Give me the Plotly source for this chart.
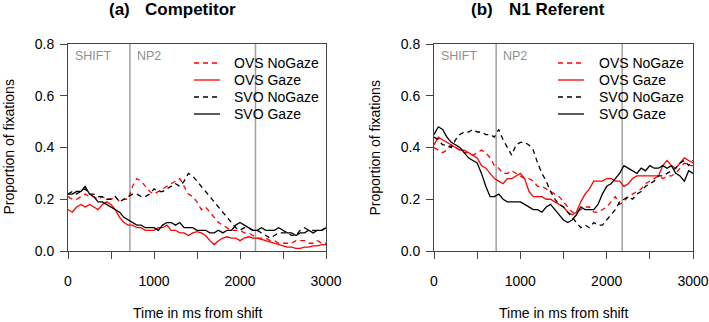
import plotly.graph_objects as go

# ---------------- data ----------------
TIME_MS = list(range(0, 3001, 50))

SERIES_NAMES = ["OVS NoGaze", "OVS Gaze", "SVO NoGaze", "SVO Gaze"]
SERIES_COLORS = ["#FF0000", "#FF0000", "#000000", "#000000"]
SERIES_DASH = ["5px,4px", "solid", "5px,4px", "solid"]

# Panel (a) Competitor
comp_ovs_nogaze = [0.21, 0.20, 0.20, 0.21, 0.22, 0.21, 0.21, 0.20, 0.21, 0.20,
                   0.20, 0.21, 0.19, 0.20, 0.20, 0.25, 0.28, 0.27, 0.25, 0.23,
                   0.22, 0.23, 0.24, 0.25, 0.26, 0.27, 0.28, 0.25, 0.22, 0.21,
                   0.19, 0.16, 0.17, 0.15, 0.13, 0.11, 0.10, 0.09, 0.08, 0.08,
                   0.08, 0.07, 0.07, 0.06, 0.05, 0.05, 0.05, 0.04, 0.04, 0.03,
                   0.03, 0.03, 0.03, 0.04, 0.04, 0.04, 0.03, 0.03, 0.04, 0.03, 0.03]
comp_ovs_gaze = [0.16, 0.15, 0.17, 0.18, 0.17, 0.18, 0.17, 0.16, 0.18, 0.19,
                 0.18, 0.16, 0.13, 0.11, 0.10, 0.10, 0.09, 0.09, 0.08, 0.08,
                 0.08, 0.09, 0.09, 0.10, 0.08, 0.08, 0.07, 0.07, 0.06, 0.07,
                 0.075, 0.07, 0.06, 0.04, 0.025, 0.04, 0.05, 0.055, 0.05, 0.05,
                 0.04, 0.05, 0.055, 0.05, 0.05, 0.045, 0.04, 0.035, 0.03, 0.025,
                 0.02, 0.015, 0.015, 0.01, 0.01, 0.015, 0.015, 0.02, 0.02, 0.025, 0.025]
comp_svo_nogaze = [0.22, 0.23, 0.22, 0.23, 0.24, 0.22, 0.22, 0.21, 0.21, 0.20,
                   0.20, 0.21, 0.19, 0.20, 0.21, 0.22, 0.22, 0.21, 0.21, 0.22,
                   0.24, 0.23, 0.23, 0.24, 0.25, 0.26, 0.25, 0.27, 0.30, 0.29,
                   0.27, 0.25, 0.23, 0.21, 0.19, 0.17, 0.15, 0.13, 0.11, 0.09,
                   0.08, 0.09, 0.09, 0.08, 0.08, 0.07, 0.06, 0.05, 0.06, 0.07,
                   0.07, 0.07, 0.06, 0.06, 0.08, 0.09, 0.08, 0.08, 0.08, 0.08, 0.09]
comp_svo_gaze = [0.22, 0.22, 0.23, 0.23, 0.25, 0.22, 0.21, 0.19, 0.19, 0.18,
                 0.17, 0.16, 0.15, 0.13, 0.12, 0.11, 0.10, 0.10, 0.09, 0.09,
                 0.09, 0.08, 0.10, 0.11, 0.11, 0.10, 0.11, 0.09, 0.09, 0.09,
                 0.08, 0.08, 0.08, 0.07, 0.07, 0.08, 0.07, 0.08, 0.08, 0.10,
                 0.11, 0.10, 0.09, 0.08, 0.08, 0.09, 0.08, 0.08, 0.08, 0.09,
                 0.08, 0.07, 0.07, 0.06, 0.07, 0.07, 0.08, 0.07, 0.08, 0.08, 0.09]

# Panel (b) N1 Referent
ref_ovs_nogaze = [0.40, 0.39, 0.38, 0.39, 0.41, 0.40, 0.39, 0.38, 0.38, 0.37,
                  0.38, 0.39, 0.38, 0.36, 0.33, 0.32, 0.30, 0.30, 0.31, 0.30,
                  0.29, 0.28, 0.28, 0.27, 0.25, 0.25, 0.24, 0.23, 0.22, 0.21,
                  0.19, 0.17, 0.15, 0.15, 0.16, 0.17, 0.17, 0.15, 0.15, 0.16,
                  0.17, 0.19, 0.21, 0.18, 0.19, 0.21, 0.22, 0.23, 0.24, 0.26,
                  0.27, 0.28, 0.29, 0.28, 0.29, 0.29, 0.30, 0.32, 0.34, 0.33, 0.33]
ref_ovs_gaze = [0.41, 0.44, 0.43, 0.42, 0.41, 0.40, 0.39, 0.39, 0.38, 0.37,
                0.36, 0.33, 0.32, 0.30, 0.28, 0.27, 0.26, 0.28, 0.28, 0.29,
                0.30, 0.28, 0.23, 0.21, 0.21, 0.21, 0.20, 0.20, 0.19, 0.18,
                0.17, 0.15, 0.14, 0.15, 0.19, 0.22, 0.24, 0.27, 0.27, 0.27,
                0.28, 0.28, 0.27, 0.27, 0.25, 0.26, 0.28, 0.29, 0.29, 0.29,
                0.29, 0.29, 0.29, 0.33, 0.35, 0.33, 0.32, 0.34, 0.36, 0.35, 0.34]
ref_svo_nogaze = [0.44, 0.43, 0.41, 0.41, 0.40, 0.43, 0.45, 0.46, 0.46, 0.47,
                  0.46, 0.46, 0.45, 0.45, 0.44, 0.47, 0.43, 0.40, 0.37, 0.41,
                  0.42, 0.42, 0.41, 0.39, 0.34, 0.30, 0.27, 0.23, 0.20, 0.18,
                  0.17, 0.15, 0.13, 0.11, 0.09, 0.10, 0.09, 0.11, 0.10, 0.10,
                  0.12, 0.14, 0.16, 0.19, 0.20, 0.21, 0.20, 0.22, 0.23, 0.25,
                  0.26, 0.27, 0.29, 0.29, 0.30, 0.31, 0.32, 0.34, 0.35, 0.33, 0.35]
ref_svo_gaze = [0.45, 0.48, 0.47, 0.44, 0.42, 0.41, 0.40, 0.38, 0.36, 0.35,
                0.34, 0.30, 0.25, 0.21, 0.21, 0.22, 0.20, 0.19, 0.19, 0.19,
                0.19, 0.18, 0.17, 0.16, 0.16, 0.15, 0.17, 0.18, 0.16, 0.14,
                0.12, 0.11, 0.12, 0.14, 0.17, 0.16, 0.16, 0.16, 0.18, 0.22,
                0.25, 0.26, 0.28, 0.30, 0.33, 0.32, 0.31, 0.30, 0.32, 0.31,
                0.33, 0.32, 0.32, 0.33, 0.32, 0.33, 0.30, 0.29, 0.27, 0.31, 0.30]

PANEL_TAGS = ["(a)", "(b)"]
PANEL_TITLES = ["Competitor", "N1 Referent"]
PANEL_SERIES = [
    [comp_ovs_nogaze, comp_ovs_gaze, comp_svo_nogaze, comp_svo_gaze],
    [ref_ovs_nogaze, ref_ovs_gaze, ref_svo_nogaze, ref_svo_gaze],
]

REGION_LINES_MS = [720, 2180]
REGION_LABELS = ["SHIFT", "NP2"]
REGION_LABEL_X = [0, 720]

X_TICKS = [0, 500, 1000, 1500, 2000, 2500, 3000]
X_TICK_TEXT = ["0", "", "1000", "", "2000", "", "3000"]
Y_TICKS = [0.0, 0.2, 0.4, 0.6, 0.8]
Y_TICK_TEXT = ["0.0", "0.2", "0.4", "0.6", "0.8"]

X_TITLE = "Time in ms from shift"
Y_TITLE = "Proportion of fixations"

# ---------------- layout geometry (pixels) ----------------
W, H = 709, 322
FONT = "Liberation Sans, Arial, sans-serif"
PLOT_X = [(68, 326), (434, 693)]
PLOT_Y = (44, 251)
TAG_X = [107, 469]
TITLE_X = [143, 507]
YTITLE_X = [8, 374]
LEG_LINE = [(194, 220), (558, 584)]
LEG_TEXT_X = [232, 597]
LEG_ROW_Y = [63, 80, 97, 114]
AXIS_COLOR = "#444444"


def px(x):
    return x / W


def py(y):
    return 1 - y / H


fig = go.Figure()
layout = dict(
    width=W, height=H,
    margin=dict(l=0, r=0, t=0, b=0, autoexpand=False),
    paper_bgcolor="white", plot_bgcolor="white",
    font=dict(family=FONT, size=14, color="black"),
    showlegend=False,
    annotations=[], shapes=[],
)

for p in range(2):
    xa = "x" if p == 0 else "x2"
    ya = "y" if p == 0 else "y2"
    for s in range(4):
        fig.add_trace(go.Scatter(
            x=TIME_MS, y=PANEL_SERIES[p][s], mode="lines",
            name=SERIES_NAMES[s], xaxis=xa, yaxis=ya,
            line=dict(color=SERIES_COLORS[s], width=1.3, dash=SERIES_DASH[s]),
            hoverinfo="skip",
        ))

    xkey = "xaxis" if p == 0 else "xaxis2"
    ykey = "yaxis" if p == 0 else "yaxis2"
    layout[xkey] = dict(
        domain=[px(PLOT_X[p][0]), px(PLOT_X[p][1])], anchor=ya, automargin=False,
        range=[0, 3000], showgrid=False, zeroline=False,
        showline=True, mirror=True, linecolor=AXIS_COLOR, linewidth=1,
        ticks="outside", ticklen=7, tickwidth=1, tickcolor=AXIS_COLOR,
        tickvals=X_TICKS, ticktext=X_TICK_TEXT, ticklabelstandoff=10,
        tickfont=dict(size=14, color="black"),
    )
    layout[ykey] = dict(
        domain=[py(PLOT_Y[1]), py(PLOT_Y[0])], anchor=xa, automargin=False,
        range=[0, 0.8], showgrid=False, zeroline=False,
        showline=True, mirror=True, linecolor=AXIS_COLOR, linewidth=1,
        ticks="outside", ticklen=7, tickwidth=1, tickcolor=AXIS_COLOR,
        tickvals=Y_TICKS, ticktext=Y_TICK_TEXT, ticklabelstandoff=3,
        tickfont=dict(size=14, color="black"),
    )

    # region boundary lines
    for xv in REGION_LINES_MS:
        layout["shapes"].append(dict(
            type="line", xref=xa, yref=ya + " domain", x0=xv, x1=xv, y0=0, y1=1,
            line=dict(color="#A0A0A0", width=1.5), layer="below",
        ))
    for lab, xv in zip(REGION_LABELS, REGION_LABEL_X):
        layout["annotations"].append(dict(
            text=lab, xref=xa, yref=ya, x=xv, y=0.8, xanchor="left", yanchor="middle",
            xshift=5, yshift=-12, showarrow=False,
            font=dict(size=12.5, color="#909090", family=FONT),
        ))

    # titles
    layout["annotations"].append(dict(
        text="<b>%s</b>" % PANEL_TAGS[p], xref="paper", yref="paper",
        x=px(TAG_X[p]), y=py(10), xanchor="left", yanchor="middle",
        showarrow=False, font=dict(size=17, family=FONT, color="black"),
    ))
    layout["annotations"].append(dict(
        text="<b>%s</b>" % PANEL_TITLES[p], xref="paper", yref="paper",
        x=px(TITLE_X[p]), y=py(10), xanchor="left", yanchor="middle",
        showarrow=False, font=dict(size=17, family=FONT, color="black"),
    ))
    # axis titles
    layout["annotations"].append(dict(
        text=X_TITLE, xref="paper", yref="paper",
        x=px((PLOT_X[p][0] + PLOT_X[p][1]) / 2), y=py(313),
        xanchor="center", yanchor="middle", showarrow=False,
        font=dict(size=14, family=FONT, color="black"),
    ))
    layout["annotations"].append(dict(
        text=Y_TITLE, xref="paper", yref="paper", textangle=-90,
        x=px(YTITLE_X[p]), y=py((PLOT_Y[0] + PLOT_Y[1]) / 2),
        xanchor="center", yanchor="middle", showarrow=False,
        font=dict(size=14, family=FONT, color="black"),
    ))

    # legend (drawn from the series lists)
    for s in range(4):
        yy = py(LEG_ROW_Y[s])
        layout["shapes"].append(dict(
            type="line", xref="paper", yref="paper",
            x0=px(LEG_LINE[p][0]), x1=px(LEG_LINE[p][1]), y0=yy, y1=yy,
            line=dict(color=SERIES_COLORS[s], width=1.3, dash=SERIES_DASH[s]),
        ))
        layout["annotations"].append(dict(
            text=SERIES_NAMES[s], xref="paper", yref="paper",
            x=px(LEG_TEXT_X[p]), y=yy, xanchor="left", yanchor="middle",
            showarrow=False, font=dict(size=14, family=FONT, color="black"),
        ))

fig.update_layout(**layout)
fig.write_html(
    "out.html",
    config={"displayModeBar": False, "staticPlot": True},
    post_script="document.body.style.margin='0';document.body.style.overflow='hidden';",
)
